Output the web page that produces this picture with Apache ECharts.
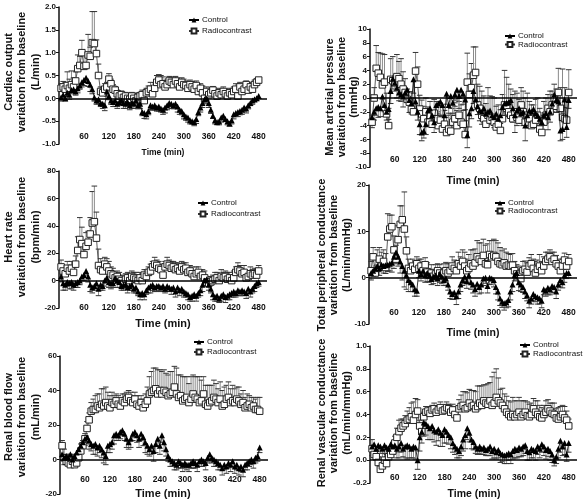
<!DOCTYPE html>
<html><head><meta charset="utf-8">
<script src="https://cdn.jsdelivr.net/npm/echarts@6/dist/echarts.min.js"></script>
<style>html,body{margin:0;padding:0;background:#fff}#c{width:584px;height:503px}</style>
</head><body><div id="c"></div>
<script>
const times = [5,10,15,20,25,30,35,40,45,50,55,60,
65,70,75,80,85,90,95,100,105,110,115,120,
125,130,135,140,145,150,155,160,165,170,175,180,
185,190,195,200,205,210,215,220,225,230,235,240,
245,250,255,260,265,270,275,280,285,290,295,300,
305,310,315,320,325,330,335,340,345,350,355,360,
365,370,375,380,385,390,395,400,405,410,415,420,
425,430,435,440,445,450,455,460,465,470,475,480];
const xTicks = [60,120,180,240,300,360,420,480];
const seriesNames = ['Control','Radiocontrast'];

// Cardiac output (L/min)
const coC = [0.02,0.08,0.0,0.12,0.08,0.18,0.2,0.15,0.22,0.28,0.35,0.4,
0.45,0.38,0.3,0.2,0.02,-0.05,-0.02,-0.1,-0.12,-0.15,0.15,0.05,
-0.05,-0.08,-0.05,-0.12,-0.08,-0.05,-0.1,-0.12,-0.08,-0.15,-0.1,-0.12,
-0.05,-0.15,-0.12,-0.3,-0.32,-0.35,-0.28,-0.15,-0.18,-0.15,-0.2,-0.18,
-0.22,-0.25,-0.2,-0.15,-0.1,-0.12,-0.15,-0.12,-0.18,-0.25,-0.28,-0.35,
-0.4,-0.42,-0.48,-0.5,-0.52,-0.45,-0.3,-0.2,-0.1,-0.02,0.0,-0.1,
-0.25,-0.38,-0.48,-0.52,-0.5,-0.42,-0.38,-0.45,-0.5,-0.55,-0.48,-0.35,
-0.32,-0.3,-0.28,-0.25,-0.2,-0.22,-0.15,-0.1,-0.05,-0.02,0.0,0.05];
const coCe = [0.08,0.1,0.06,0.08,0.1,0.08,0.06,0.08,0.1,0.08,0.1,0.12,
0.1,0.12,0.15,0.1,0.08,0.08,0.1,0.08,0.1,0.12,0.1,0.08,
0.08,0.1,0.08,0.1,0.08,0.1,0.12,0.1,0.08,0.1,0.12,0.1,
0.1,0.08,0.1,0.08,0.12,0.1,0.08,0.1,0.08,0.1,0.08,0.1,
0.08,0.1,0.12,0.1,0.08,0.1,0.08,0.1,0.12,0.1,0.08,0.1,
0.08,0.1,0.08,0.06,0.08,0.1,0.08,0.1,0.1,0.08,0.12,0.1,
0.08,0.06,0.08,0.06,0.08,0.1,0.08,0.06,0.08,0.06,0.08,0.1,
0.08,0.1,0.08,0.1,0.08,0.1,0.08,0.06,0.08,0.06,0.05,0.05];
const coR = [0.22,0.25,0.2,0.28,0.22,0.3,0.25,0.38,0.65,0.72,1.0,0.7,
0.72,0.95,0.92,1.22,1.2,0.98,0.5,0.15,0.12,0.2,0.25,0.42,
0.32,0.2,0.18,0.1,0.05,0.08,0.02,0.05,0.0,-0.02,0.05,0.0,
-0.05,0.02,0.05,0.08,-0.05,0.12,0.15,0.2,0.1,0.22,0.35,0.4,
0.3,0.32,0.25,0.3,0.38,0.35,0.3,0.38,0.32,0.25,0.35,0.3,
0.28,0.22,0.3,0.25,0.2,0.28,0.15,0.22,0.12,0.0,0.15,0.08,
0.12,0.18,0.1,0.05,0.12,0.08,0.15,0.1,0.05,0.12,0.08,0.15,
0.2,0.05,0.25,0.15,0.2,0.3,0.18,0.25,0.2,0.3,0.35,0.4];
const coRe = [0.1,0.12,0.15,0.3,0.2,0.3,0.2,0.2,0.3,0.2,0.27,0.3,
0.25,0.45,0.2,0.68,0.7,0.3,0.25,0.1,0.1,0.12,0.1,0.12,
0.1,0.1,0.08,0.08,0.1,0.08,0.1,0.08,0.1,0.12,0.08,0.1,
0.15,0.1,0.08,0.1,0.1,0.1,0.12,0.15,0.1,0.12,0.15,0.12,
0.2,0.15,0.1,0.12,0.1,0.12,0.1,0.1,0.12,0.15,0.1,0.12,
0.1,0.12,0.1,0.12,0.15,0.1,0.12,0.1,0.15,0.1,0.1,0.12,
0.1,0.08,0.1,0.08,0.1,0.08,0.1,0.1,0.12,0.1,0.08,0.1,
0.12,0.15,0.1,0.12,0.1,0.08,0.12,0.1,0.12,0.1,0.08,0.05];

// Mean arterial pressure (mmHg)
const mapC = [-2.8,-2.0,-1.5,-1.3,-1.5,0.2,-1.0,-2.0,-1.6,1.0,2.8,2.2,
1.5,0.8,0.5,0.2,0.8,1.2,-0.3,-0.8,2.7,-0.5,-2.0,-3.8,
-5.0,-4.8,-3.8,-1.8,-1.5,-2.5,-3.5,-1.0,-0.8,-0.5,-1.0,-2.5,
0.6,-1.0,0.3,-0.7,0.5,1.2,0.3,1.2,0.6,-0.2,-5.4,-2.2,
-1.5,1.0,-0.2,-1.2,-1.8,-2.0,-1.5,-2.3,-2.0,-1.8,-2.5,-2.8,
-2.3,-3.0,-2.5,-1.3,-0.8,-0.7,-0.6,-0.3,-1.5,-2.5,-1.8,-1.5,
-2.2,-2.0,-4.0,-2.5,-1.8,-2.0,-1.6,-2.2,-2.5,-3.0,-3.5,-2.5,
-2.2,-2.8,-2.0,-0.8,0.5,-0.3,-0.5,-4.7,-4.5,-0.2,-4.2,-0.3];
const mapCe = [1.5,1.2,1.0,1.5,1.2,1.5,1.0,1.2,1.5,1.8,1.5,1.2,
1.5,1.2,1.0,1.5,1.2,1.5,1.8,1.5,2.0,1.5,1.2,1.5,
1.2,1.0,1.5,1.8,1.5,1.2,1.5,1.8,1.5,2.0,1.5,1.2,
1.5,1.2,1.8,1.5,1.2,1.5,1.8,1.2,1.5,1.5,1.8,2.0,
1.5,1.8,1.5,1.2,1.5,1.8,1.5,1.2,1.8,1.5,1.2,1.5,
1.8,1.5,1.2,1.5,1.8,2.0,1.5,1.8,2.0,2.5,2.2,1.8,
1.5,2.0,2.2,1.8,1.5,1.8,1.5,1.2,1.5,1.8,1.5,1.2,
1.5,1.8,1.5,1.2,1.5,1.8,1.5,1.5,1.5,1.2,1.5,1.2];
const mapR = [-3.5,0.0,4.3,3.6,3.0,1.9,2.3,-2.3,-4.0,2.7,2.5,2.2,
3.1,2.8,2.0,1.3,0.8,-0.2,-0.6,-1.6,-2.0,3.9,2.0,-1.6,
-2.3,-3.0,-2.0,-3.5,-2.5,-3.8,-2.2,-3.0,-4.0,-3.2,-4.5,-3.8,
-5.0,-4.5,-4.8,-3.5,-3.0,-4.0,-2.5,-3.5,-3.8,-5.3,2.3,0.5,
1.5,3.3,3.7,-1.0,-1.5,-2.5,-3.0,-3.8,-2.5,-3.2,-2.8,-3.5,
-4.2,-3.8,-4.7,-3.0,-1.0,-1.5,-2.0,-2.5,-3.0,-2.0,-2.8,-3.2,
-1.0,-2.0,-3.5,-2.5,-3.0,-4.0,-3.8,-3.2,-2.5,-4.5,-5.0,-3.5,
-2.5,-1.5,-2.0,-1.0,0.0,-1.2,0.8,-1.5,-2.8,-3.0,-3.2,0.8];
const mapRe = [1.0,1.5,3.3,3.0,3.5,4.5,4.0,3.0,2.5,3.0,3.5,1.0,
3.2,2.5,3.7,2.5,2.0,1.5,1.5,2.5,2.0,2.7,2.5,2.0,
2.0,1.8,2.0,2.2,2.0,1.8,2.0,2.5,2.0,2.2,1.8,2.0,
2.2,2.0,2.5,2.0,1.8,2.2,2.0,2.5,2.0,2.0,4.2,3.0,
3.5,4.1,3.7,3.0,3.2,3.5,3.3,3.0,4.0,3.5,3.0,3.5,
3.0,2.8,3.0,3.5,5.0,4.5,4.0,3.8,3.5,3.0,3.5,3.0,
2.5,3.0,3.5,3.2,2.5,3.0,2.8,3.0,2.5,3.0,2.5,3.0,
2.5,2.0,3.0,2.0,2.0,2.5,3.5,3.0,7.0,4.5,3.0,3.3];

// Heart rate (bpm/min)
const hrC = [3,-2,-3,-1,-2,-1,-3,-2,-1,0,3,4,
7,3,-3,-5,-4,-2,-6,-3,-4,0,2,-1,
-2,-2,2,0,-1,-4,-3,-3,-5,-4,-3,-6,
-5,-8,-10,-9,-10,-7,-5,-4,-3,-5,-4,-4,
-5,-4,-6,-4,-5,-6,-5,-8,-5,-7,-6,-8,
-9,-10,-12,-11,-10,-11,-9,-7,-3,0,1,-3,
-6,-10,-12,-11,-13,-11,-10,-12,-11,-10,-9,-8,
-9,-7,-8,-7,-8,-9,-6,-8,-6,-4,-2,-1];
const hrCe = [4,5,4,3,4,5,4,3,4,3,3,4,
3,4,5,4,3,4,5,4,3,4,3,4,
4,3,4,5,4,3,4,3,4,3,4,3,
4,3,4,3,4,3,4,5,4,3,4,3,
3,4,3,4,3,4,3,4,3,4,3,4,
3,4,3,4,3,4,3,4,5,4,3,4,
3,4,3,4,3,4,3,4,3,4,3,4,
3,4,3,4,3,4,3,4,3,4,3,3];
const hrR = [10,7,5,9,7,9,6,12,22,30,27,19,
25,28,34,42,43,31,11,8,7,12,10,7,
5,4,2,3,1,0,-2,1,2,0,3,2,
1,0,2,0,4,3,6,7,10,12,11,9,
8,4,10,12,11,9,10,8,9,7,10,8,
9,6,7,5,3,5,6,3,4,2,-1,-2,
-1,0,1,2,0,3,2,3,1,2,0,2,
6,8,7,5,6,2,3,5,4,5,4,7];
const hrRe = [5,4,3,5,4,5,4,6,10,16,12,8,
10,8,12,23,26,19,12,8,6,5,6,7,
5,5,4,4,5,4,5,4,4,5,4,4,
5,4,4,5,4,5,4,5,4,5,4,5,
4,5,4,5,4,5,4,5,4,5,4,5,
4,5,4,5,4,5,4,5,4,5,4,5,
4,4,5,4,4,5,4,4,5,4,4,5,
4,5,4,4,5,4,4,5,4,4,4,4];

// Total peripheral conductance (L/min/mmHg)
const tpcC = [1,1.5,2,2.5,2,2.8,2.5,2.7,2.8,3,3.2,4.5,
5.5,4.5,3.5,2.5,1.5,0.5,-0.5,-1,-1.5,-2.5,-2.8,1.5,
0.8,1.5,0.5,1,0.5,-0.3,0.2,0.5,-0.2,0.8,0.2,-0.5,
-0.2,-1.5,-3,-3.5,-3.2,-4,-3,-1.5,-0.5,0.2,-0.8,0.5,
-1,-1.5,-2.5,-1.3,-2,-1.5,-0.2,0,-1.8,0,-0.2,-0.5,
-2,-3,-4.5,-5.2,-5.5,-5.3,-4.8,-3,-1.5,0.5,1,-1,
-1.5,-2,-3,-3.8,-5,-4.5,-3.5,-4,-4.2,-4.5,-5,-2.5,
-2.8,-2.2,-2.5,-1.8,-2,-3,-1.5,-0.5,-1,0.5,1,1];
const tpcCe = [1.5,1.2,1.5,1.8,1.5,1.2,1.5,1.8,1.5,1.5,2,2.5,
2.5,2,2.5,3,3.5,3,2.5,2,1.5,1.5,1.2,1.5,
1.5,1.2,1.5,1.8,1.5,1.2,1.5,1.2,1.5,1.8,1.5,1.2,
1.5,1.2,1.5,1.2,1.5,1.8,1.5,1.5,1.2,1.5,1.5,1.8,
1.5,1.8,1.5,1.2,1.5,1.8,1.5,1.2,1.5,1.5,1.2,1.5,
1.5,1.8,1.5,1.2,1.5,1.2,1.5,1.8,1.5,1.2,1.5,1.8,
1.5,1.2,1.5,1.2,1.5,1.2,1.5,1.2,1.5,1.2,1.5,1.2,
1.2,1.5,1.2,1.5,1.2,1.5,1.2,1.5,1.2,1.5,1.2,1];
const tpcR = [1.5,4.5,1,2,4,2.5,3.5,2.2,8.8,10.5,11,6,
4,8.2,11.5,12.5,10.5,5.8,2,1.5,2.5,1.8,3,2,
2.5,1.5,2.8,1.2,0.5,1,0.3,0.8,1.5,1,0.5,1,
1.5,1,1.5,2.5,2,1.5,3,2.5,3.5,2.5,1.5,2,
3,2.5,3.2,4.5,4,3.5,4.8,3,2.8,5,4.5,4.8,
4.5,3.5,3,2.8,3.2,2.5,2.7,2.5,2.7,1.5,0.8,0.5,
-0.2,1.5,1.8,1.2,2.5,3,2,1,1.8,2.5,1.5,2.5,
3.5,4,4.5,3.5,4,3,2.5,1.5,2.5,3.8,2.5,3.5];
const tpcRe = [2,2,3,4,2.5,3,2.5,3,5,3,2.5,3,
3,3,4,3,8,3,2,1.5,1.5,1.8,1.5,2,
1.5,1.8,1.5,2,1.5,1.8,1.5,2,1.5,1.8,1.5,2,
1.8,2,1.5,2,1.8,2,2.5,2,2.5,3,2.5,3,
3,3.5,3,3.5,3.5,4,3.5,4,4.5,3,3.5,3.5,
3.5,4,3.5,3,3,3,2.5,2.5,2.5,2,2,2,
2,2,1.8,2,1.8,2,2,2.5,2,2.5,2,2,
2,1.5,1.5,2,1.5,1.8,1.5,1.5,1.5,1.5,1.5,1.5];

// Renal blood flow (mL/min)
const rbfC = [3,1,2,1,3,0,2,4,6,8,10,12,
13,11,9,8,9,7,8,6,4,2,8,9,
10,14,15,14,16,17,15,12,10,12,15,16,
14,12,15,13,10,8,6,8,5,9,12,8,
14,10,6,2,0,-1,-2,-3,-1,-2,-3,-2,
-3,-3,-2,-1,-2,-3,-1,0,-1,-2,1,3,
1,0,-1,-2,-3,-5,-3,-4,-2,-3,-1,-4,
-3,-5,-4,-6,-3,-2,-1,0,-1,1,2,7];
const rbfCe = [3,4,5,4,5,4,3,4,5,4,3,4,
4,5,4,5,6,5,4,5,6,5,4,5,
4,5,4,3,4,3,4,5,4,5,4,3,
4,5,4,5,6,5,4,5,6,5,4,5,
4,5,4,3,4,3,4,3,4,3,4,3,
3,4,3,4,3,4,3,4,3,4,3,4,
3,4,3,4,3,4,3,4,3,4,3,4,
3,4,3,4,3,4,3,3,4,3,3,3];
const rbfR = [8,1,-1,-2,-3,-1,-3,-2,1,5,8,12,
18,23,28,29,29,31,30,32,31,33,31,30,
33,32,34,32,31,34,33,35,36,34,33,35,
32,31,33,30,32,34,38,39,40,41,38,40,
38,40,39,37,38,39,42,38,36,37,34,35,
36,33,35,38,36,35,33,34,38,32,31,33,
34,36,35,33,35,31,32,35,36,33,34,33,
35,34,32,33,30,31,32,30,31,29,29,28];
const rbfRe = [3,5,4,5,6,4,5,4,4,4,3,3,
4,4,5,6,8,7,8,9,10,9,8,7,
6,5,4,5,4,4,5,4,4,5,4,4,
5,4,4,5,6,8,10,12,13,12,14,12,
13,12,11,12,13,12,12,15,13,12,14,13,
12,11,13,11,12,13,15,12,10,11,12,10,
9,10,9,8,10,9,10,8,9,8,9,8,
7,8,6,7,6,7,5,6,5,6,7,8];

// Renal vascular conductance (mL/min/mmHg)
const rvcC = [0.12,0.14,0.1,0.13,0.12,0.1,0.13,0.11,0.1,0.14,0.12,0.13,
0.1,0.12,0.15,0.1,0.12,0.13,0.12,0.1,0.12,0.11,0.0,0.2,
0.25,0.33,0.32,0.3,0.28,0.3,0.26,0.25,0.27,0.24,0.22,0.27,
0.25,0.22,0.2,0.15,0.12,0.1,0.08,0.12,0.18,0.22,0.28,0.24,
0.18,0.16,0.12,0.1,0.12,0.1,0.11,0.09,0.1,0.12,0.08,0.1,
0.07,0.09,0.06,0.05,0.04,0.05,0.06,0.05,0.08,0.1,0.09,0.11,
0.1,0.12,0.13,0.08,0.07,0.1,0.09,0.08,0.12,0.1,0.14,0.12,
0.09,0.1,0.08,0.05,0.0,0.03,0.1,0.17,0.12,0.15,0.05,0.15];
const rvcCe = [0.08,0.06,0.07,0.05,0.06,0.08,0.07,0.06,0.08,0.1,0.07,0.06,
0.08,0.1,0.08,0.07,0.1,0.12,0.1,0.08,0.1,0.1,0.08,0.12,
0.1,0.12,0.1,0.12,0.1,0.12,0.1,0.12,0.1,0.12,0.1,0.12,
0.1,0.08,0.1,0.08,0.07,0.08,0.06,0.08,0.1,0.12,0.1,0.08,
0.08,0.07,0.06,0.05,0.06,0.05,0.06,0.05,0.06,0.08,0.07,0.08,
0.06,0.07,0.08,0.06,0.07,0.08,0.06,0.08,0.07,0.08,0.07,0.08,
0.07,0.08,0.07,0.08,0.07,0.08,0.07,0.08,0.07,0.08,0.07,0.08,
0.08,0.07,0.08,0.07,0.05,0.06,0.08,0.1,0.08,0.1,0.06,0.08];
const rvcR = [0.1,0.05,0.03,-0.02,-0.08,-0.05,0.0,-0.03,0.03,0.05,0.08,0.15,
0.2,0.25,0.28,0.3,0.32,0.35,0.36,0.38,0.35,0.4,0.43,0.3,
0.25,0.38,0.42,0.43,0.41,0.44,0.45,0.42,0.44,0.46,0.43,0.44,
0.46,0.45,0.42,0.44,0.4,0.37,0.45,0.47,0.48,0.45,0.46,0.5,
0.47,0.48,0.45,0.47,0.5,0.48,0.52,0.5,0.49,0.52,0.48,0.5,
0.55,0.52,0.5,0.48,0.45,0.42,0.4,0.38,0.4,0.38,0.4,0.42,
0.38,0.4,0.42,0.39,0.38,0.4,0.45,0.42,0.4,0.38,0.37,0.4,
0.42,0.45,0.43,0.41,0.4,0.37,0.36,0.38,0.4,0.37,0.35,0.3];
const rvcRe = [0.08,0.06,0.05,0.05,0.04,0.05,0.06,0.06,0.06,0.07,0.06,0.06,
0.08,0.1,0.08,0.06,0.07,0.08,0.1,0.12,0.16,0.14,0.1,0.05,
0.05,0.04,0.05,0.04,0.05,0.04,0.05,0.05,0.04,0.05,0.05,0.04,
0.05,0.04,0.05,0.05,0.06,0.1,0.08,0.1,0.12,0.15,0.13,0.12,
0.14,0.13,0.15,0.18,0.15,0.17,0.14,0.16,0.18,0.16,0.25,0.27,
0.25,0.2,0.12,0.15,0.13,0.14,0.12,0.13,0.15,0.14,0.12,0.13,
0.14,0.12,0.1,0.12,0.11,0.1,0.09,0.1,0.12,0.1,0.09,0.08,
0.1,0.08,0.07,0.09,0.1,0.08,0.1,0.09,0.08,0.1,0.08,0.06];

const yTitles = ['Cardiac output\nvariation from baseline\n(L/min)',
 'Mean arterial pressure\nvariation from baseline\n(mmHg)',
 'Heart rate\nvariation from baseline\n(bpm/min)',
 'Total peripheral conductance\nvariation from baseline\n(L/min/mmHg)',
 'Renal blood flow\nvariation from baseline\n(mL/min)',
 'Renal vascular conductance\nvariation from baseline\n(mL/min/mmHg)'];
const xTitle = 'Time (min)';

const panels = [
 {c:coC, ce:coCe, r:coR, re:coRe, min:-1, max:2, step:0.5, dec:1},
 {c:mapC, ce:mapCe, r:mapR, re:mapRe, min:-10, max:10, step:2, dec:0},
 {c:hrC, ce:hrCe, r:hrR, re:hrRe, min:-20, max:80, step:20, dec:0},
 {c:tpcC, ce:tpcCe, r:tpcR, re:tpcRe, min:-10, max:20, step:10, dec:0},
 {c:rbfC, ce:rbfCe, r:rbfR, re:rbfRe, min:-20, max:60, step:20, dec:0},
 {c:rvcC, ce:rvcCe, r:rvcR, re:rvcRe, min:-0.2, max:1.0, step:0.2, dec:1}
];
// layout (style only)
const L = [
 {left:59, top:7,   w:208, h:137, xm:-12, tx:163, ty:153, tf:8.5, yx:22,  yy:72,  lh:13.5, lg:[188,16], lgap:3},
 {left:370,top:29,  w:207, h:138, xm:-12, tx:473, ty:181, tf:10.5,yx:342, yy:97,  lh:12, lg:[504,32], lgap:0.5},
 {left:59, top:171, w:208, h:137, xm:-5,  tx:163, ty:324, tf:11,  yx:22,  yy:237, lh:13.5, lg:[197,199], lgap:3},
 {left:369,top:185, w:208, h:139, xm:-16, tx:473, ty:333, tf:10.5,yx:334, yy:255, lh:12.5, lg:[494,199], lgap:0},
 {left:60, top:356, w:208, h:138, xm:-19, tx:163, ty:494, tf:11,  yx:22,  yy:417, lh:13.5, lg:[193,338], lgap:2},
 {left:370,top:346, w:207, h:137, xm:-10, tx:474, ty:494, tf:10.5,yx:334, yy:413, lh:12.5, lg:[519,341], lgap:1}
];
const FF = '"Liberation Sans", Arial, Helvetica, sans-serif';

function errRender(dir){
  return function(params, api){
    const x = api.value(0), y = api.value(1), e = api.value(2);
    const p0 = api.coord([x, y]);
    const p1 = api.coord([x, y + dir*e]);
    return {type:'group', children:[
      {type:'line', shape:{x1:p0[0], y1:p0[1], x2:p1[0], y2:p1[1]}, style:{stroke:'#8a8a8a', lineWidth:1}},
      {type:'line', shape:{x1:p1[0]-2.8, y1:p1[1], x2:p1[0]+2.8, y2:p1[1]}, style:{stroke:'#333', lineWidth:1}}
    ]};
  };
}

const option = {animation:false, backgroundColor:'#fff', grid:[], xAxis:[], yAxis:[], series:[], legend:[], graphic:[]};
panels.forEach((p, i) => {
  const l = L[i];
  option.grid.push({left:l.left, top:l.top, width:l.w, height:l.h, containLabel:false});
  option.xAxis.push({type:'value', gridIndex:i, min:0, max:500, interval:60,
    axisLine:{show:false}, axisTick:{show:false}, splitLine:{show:false},
    axisLabel:{margin:l.xm, fontSize:8.5, fontWeight:'bold', fontFamily:FF, color:'#111',
      formatter: v => (xTicks.indexOf(v) >= 0 ? String(v) : '')}});
  option.yAxis.push({type:'value', gridIndex:i, min:p.min, max:p.max, interval:p.step,
    axisLine:{show:true, onZero:false, lineStyle:{color:'#111', width:1.5}},
    axisTick:{show:true, length:3, lineStyle:{color:'#111', width:1}},
    splitLine:{show:false},
    axisLabel:{margin:3, fontSize:8, fontWeight:'bold', fontFamily:FF, color:'#111',
      formatter: v => v.toFixed(p.dec)}});
  const dC = times.map((t,k)=>[t, p.c[k], p.ce[k]]);
  const dR = times.map((t,k)=>[t, p.r[k], p.re[k]]);
  option.series.push({type:'custom', xAxisIndex:i, yAxisIndex:i, renderItem:errRender(1), data:dR, encode:{x:0,y:1}, silent:true, z:1});
  option.series.push({type:'custom', xAxisIndex:i, yAxisIndex:i, renderItem:errRender(-1), data:dC, encode:{x:0,y:1}, silent:true, z:1});
  option.series.push({type:'line', name:seriesNames[1], xAxisIndex:i, yAxisIndex:i, data:dR.map(d=>[d[0],d[1]]),
    symbol:'rect', symbolSize:6.5, showSymbol:true,
    itemStyle:{color:'#fff', borderColor:'#222', borderWidth:1},
    lineStyle:{color:'#333', width:0.8}, z:3});
  option.series.push({type:'line', name:seriesNames[0], xAxisIndex:i, yAxisIndex:i, data:dC.map(d=>[d[0],d[1]]),
    symbol:'triangle', symbolSize:6, showSymbol:true,
    itemStyle:{color:'#000'}, lineStyle:{color:'#000', width:0.8}, z:4,
    markLine:{silent:true, symbol:['none','none'], label:{show:false}, animation:false,
      lineStyle:{color:'#000', width:1.5, type:'solid'}, data:[{yAxis:0}]}});
  option.legend.push({left:l.lg[0], top:l.lg[1], orient:'vertical', itemWidth:10, itemHeight:6, itemGap:l.lgap, padding:0,
    data:[seriesNames[0], seriesNames[1]], selectedMode:false,
    textStyle:{fontSize:8, fontFamily:FF, color:'#111', padding:[0,0,0,-2]}});
  option.graphic.push({type:'text', x:l.yx, y:l.yy, rotation:Math.PI/2,
    style:{text:yTitles[i], fontSize:11, fontWeight:'bold', fontFamily:FF, fill:'#111', align:'center', verticalAlign:'middle', lineHeight:l.lh}});
  option.graphic.push({type:'text', x:l.tx, y:l.ty,
    style:{text:xTitle, fontSize:l.tf, fontWeight:'bold', fontFamily:FF, fill:'#111', align:'center', verticalAlign:'middle'}});
});
const chart = echarts.init(document.getElementById('c'), null, {renderer:'canvas'});
chart.setOption(option);
</script>
</body></html>
